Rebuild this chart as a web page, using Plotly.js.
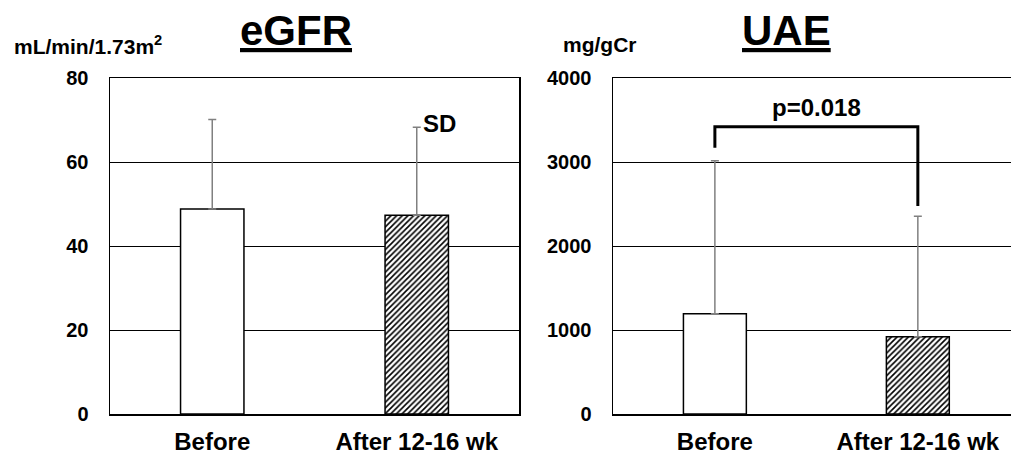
<!DOCTYPE html>
<html>
<head>
<meta charset="utf-8">
<script src="https://cdn.plot.ly/plotly-3.0.1.min.js"></script>
<style>html,body{margin:0;padding:0;background:#fff;}#chart{width:1011px;height:455px;}</style>
</head>
<body>
<div id="chart"></div>
<script>
// ---- data ----
const categories = ["Before", "After 12-16 wk"];
const egfrMean = [48.8, 47.3];
const egfrSD = [21.3, 21.0];
const uaeMean = [1194, 920];
const uaeSD = [1821, 1434];
const egfrTicks = [0, 20, 40, 60, 80];
const uaeTicks = [0, 1000, 2000, 3000, 4000];
const pValueText = "p=0.018";
const bracketY = [3170, 3420, 2476]; // left leg bottom, top, right leg bottom

const W = 1011, H = 455;
const FONT = "Liberation Sans, Arial, Helvetica, sans-serif";
const px = x => x / W;
const py = y => 1 - y / H;

function barTrace(means, sds, xa, ya) {
  return {
    type: "bar",
    x: categories,
    y: means,
    xaxis: xa,
    yaxis: ya,
    width: 0.31,
    marker: {
      color: "#ffffff",
      line: { color: "#000000", width: 1.5 },
      pattern: { shape: ["", "/"], fgcolor: "#000000", bgcolor: "#ffffff", size: 4, solidity: 0.4 }
    },
    error_y: {
      type: "data", symmetric: false, array: sds, arrayminus: [0, 0],
      color: "#808080", thickness: 1.5, width: 4
    },
    hoverinfo: "skip",
    showlegend: false
  };
}

const data = [
  barTrace(egfrMean, egfrSD, "x", "y"),
  barTrace(uaeMean, uaeSD, "x2", "y2")
];

const tickFont = { family: FONT, size: 20, color: "#000", weight: "bold" };
const catFont = { family: FONT, size: 24, color: "#000", weight: "bold" };

const yBase = {
  domain: [py(414), py(78)],
  showgrid: true, gridcolor: "#000", gridwidth: 1,
  zeroline: false,
  showline: true, linecolor: "#000", linewidth: 1.5,
  ticks: "", tickfont: tickFont, ticklabelstandoff: 16,
  fixedrange: true
};
const xBase = {
  type: "category",
  showgrid: false, zeroline: false,
  showline: true, linecolor: "#000", linewidth: 1.5, mirror: true,
  ticks: "", tickfont: catFont, ticklabelstandoff: 6,
  fixedrange: true
};

const layout = {
  width: W, height: H,
  margin: { l: 0, r: 0, t: 0, b: 0 },
  paper_bgcolor: "#fff", plot_bgcolor: "rgba(0,0,0,0)",
  font: { family: FONT, color: "#000" },
  bargap: 0,
  xaxis: Object.assign({}, xBase, { domain: [px(110), px(519)], range: [-0.5, 1.5], anchor: "y" }),
  yaxis: Object.assign({}, yBase, { range: [0, 80], tickvals: egfrTicks, anchor: "x", mirror: true }),
  xaxis2: Object.assign({}, xBase, { domain: [px(613), 1], range: [-0.502, 1.459], anchor: "y2" }),
  yaxis2: Object.assign({}, yBase, { range: [0, 4000], tickvals: uaeTicks, anchor: "x2", mirror: false }),
  shapes: [
    {
      type: "path", xref: "x2", yref: "y2",
      path: "M 0 " + bracketY[0] + " L 0 " + bracketY[1] + " L 1 " + bracketY[1] + " L 1 " + bracketY[2],
      line: { color: "#000", width: 3 }
    }
  ],
  annotations: [
    { xref: "paper", yref: "paper", x: px(296), y: py(31), xanchor: "center", yanchor: "middle",
      text: "<b><u>eGFR</u></b>", showarrow: false, font: { family: FONT, size: 42, color: "#000" } },
    { xref: "paper", yref: "paper", x: px(786), y: py(31), xanchor: "center", yanchor: "middle",
      text: "<b><u>UAE</u></b>", showarrow: false, font: { family: FONT, size: 42, color: "#000" } },
    { xref: "paper", yref: "paper", x: px(12), y: py(45), xanchor: "left", yanchor: "middle",
      text: "<b>mL/min/1.73m<sup>2</sup></b>", showarrow: false, font: { family: FONT, size: 21, color: "#000" } },
    { xref: "paper", yref: "paper", x: px(561), y: py(45), xanchor: "left", yanchor: "middle",
      text: "<b>mg/gCr</b>", showarrow: false, font: { family: FONT, size: 21, color: "#000" } },
    { xref: "x", yref: "y", x: 1, y: egfrMean[1] + egfrSD[1], xanchor: "left", yanchor: "middle", xshift: 4, yshift: 4,
      text: "<b>SD</b>", showarrow: false, font: { family: FONT, size: 24, color: "#000" } },
    { xref: "x2", yref: "y2", x: 0.5, y: bracketY[1], xanchor: "center", yanchor: "bottom", yshift: 4,
      text: "<b>" + pValueText + "</b>", showarrow: false, font: { family: FONT, size: 24, color: "#000" } }
  ]
};

Plotly.newPlot("chart", data, layout, { staticPlot: true, displayModeBar: false });
</script>
</body>
</html>
